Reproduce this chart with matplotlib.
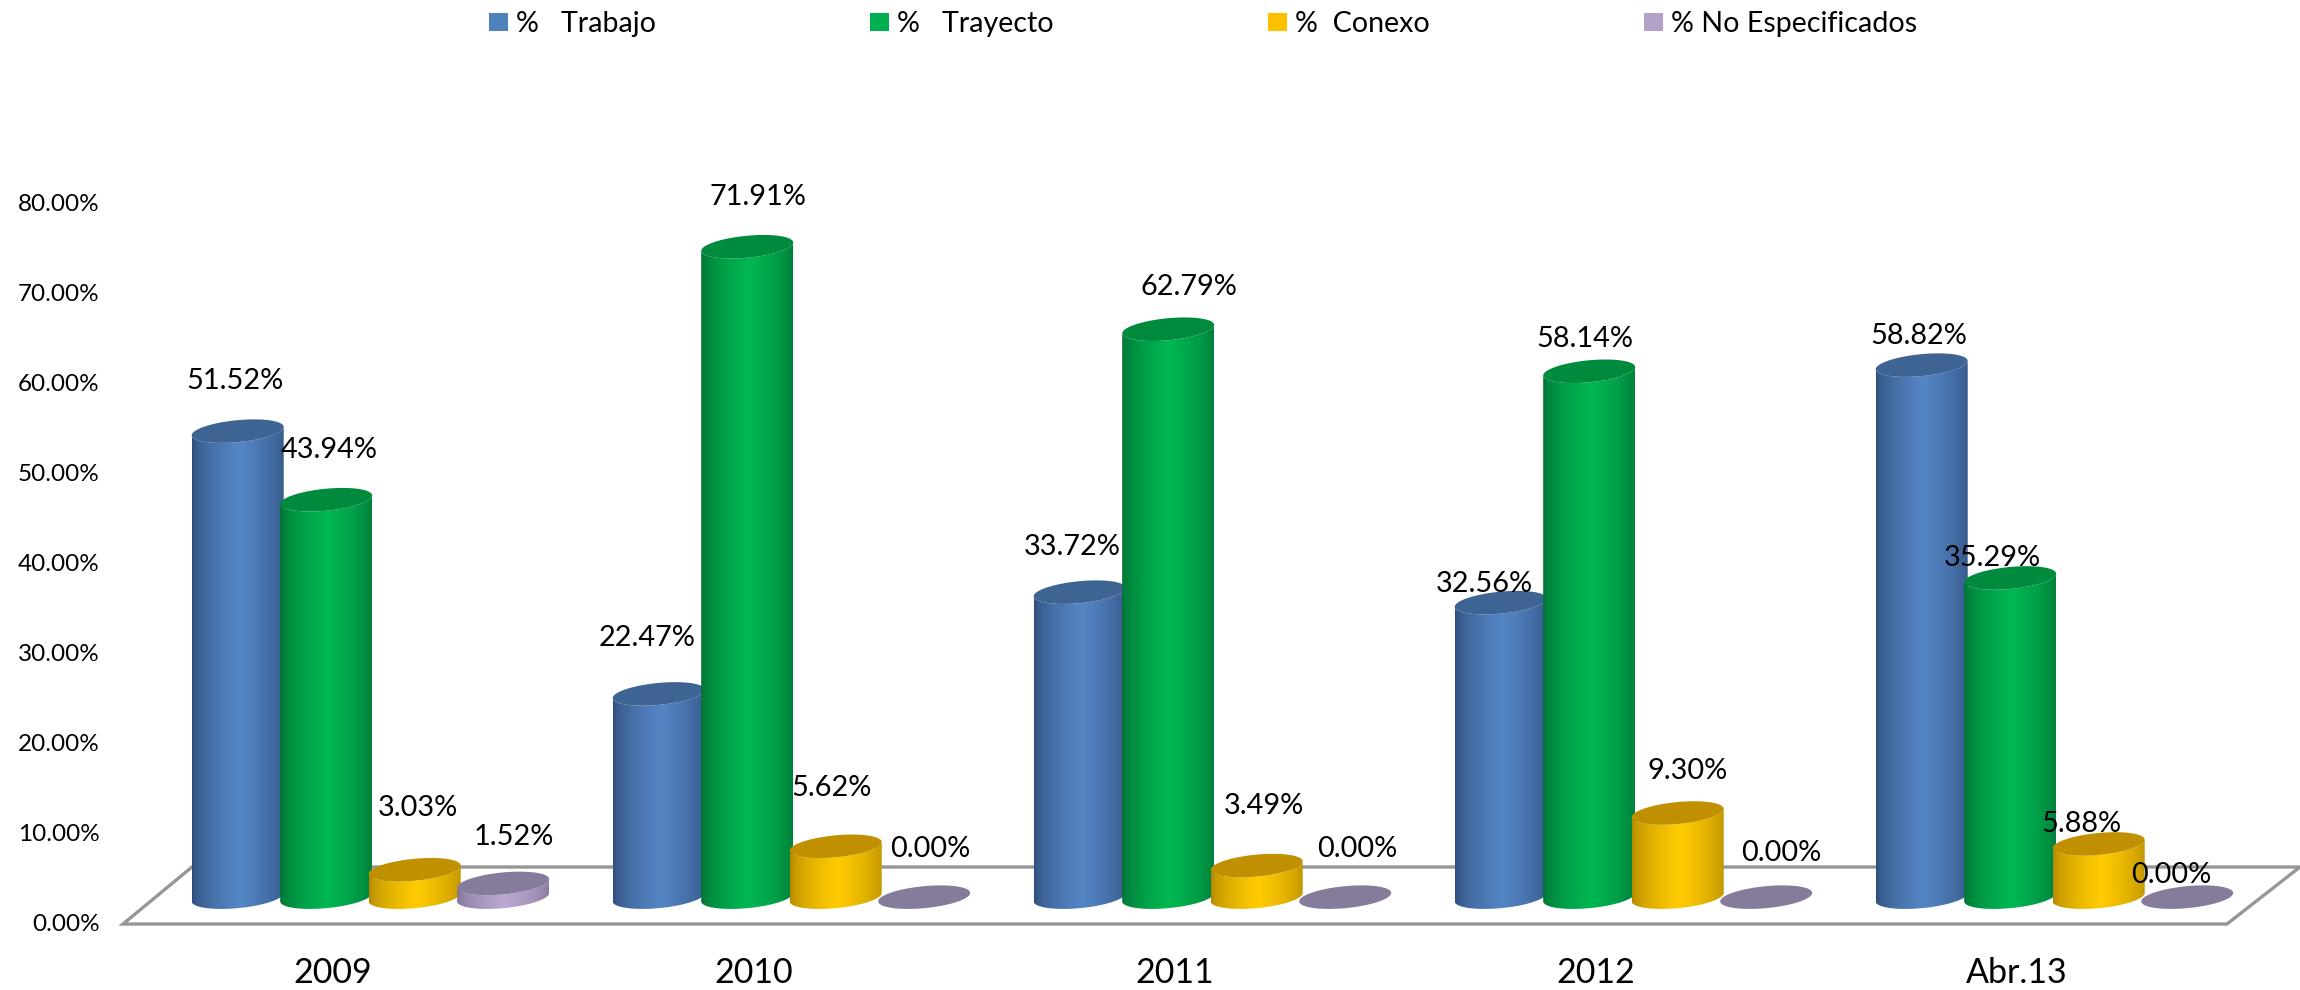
import numpy as np
import matplotlib
matplotlib.use("Agg")
import matplotlib.pyplot as plt
from matplotlib.patches import Patch, Polygon, PathPatch
from matplotlib.path import Path
from matplotlib.colors import to_rgb
from matplotlib.transforms import ScaledTranslation

plt.rcParams['font.family'] = ['Lato', 'DejaVu Sans']

categories = ['2009', '2010', '2011', '2012', 'Abr.13']
series_names = ['%   Trabajo', '%   Trayecto', '%  Conexo', '% No Especificados']
trabajo = [51.52, 22.47, 33.72, 32.56, 58.82]
trayecto = [43.94, 71.91, 62.79, 58.14, 35.29]
conexo = [3.03, 5.62, 3.49, 9.30, 5.88]
no_especificados = [1.52, 0.00, 0.00, 0.00, 0.00]
series = [trabajo, trayecto, conexo, no_especificados]
y_ticks = [0, 10, 20, 30, 40, 50, 60, 70, 80]

legend_colors = ['#4F81BD', '#00B050', '#FFC000', '#B3A2C7']
top_colors = ['#3E6494', '#008A3E', '#C09000', '#877B9B']
edge_colors = ['#2E4C78', '#006F33', '#B08500', '#7E7093']
mid_colors = ['#5486C6', '#00B853', '#FFCC00', '#BBA8D3']

# label offsets from the top of each bar, measured on the 1568 px wide view
label_off = [
    [(-2, -35), (-8, -38), (-5, -31), (-11, -13), (-2, -21)],
    [(2, -34), (7, -35), (14, -30), (-3, -23), (-12, -14)],
    [(2, -41), (-3, -39), (5, -40), (7, -28), (-12, -13)],
    [(7, -31), (4, -32), (8, -32), (10, -29), (-11, -14)],
]

W, H = 2300, 990
PX_Y = 9.0        # pixels per percent
Y0_PX = 921       # pixel row of the 0 tick
GROUP_PX = 421.0  # pixels between groups
X0_PX = 237.7     # pixel column of first blue bar
STEP = 88.5 / GROUP_PX
HALF_W = 46.0 / GROUP_PX
LIFT = 2.65       # lift of the bar base from the front of the floor
BAR_SCALE = 1.005 # bars stand slightly taller than the tick scale
ELL_B = 11.0 / PX_Y
ELL_S = 4.2 / PX_Y

AX_L, AX_B = 105, 940
fig = plt.figure(figsize=(W / 100, H / 100), dpi=100, facecolor='white')
ax = fig.add_axes([AX_L / W, (H - AX_B) / H, (W - AX_L) / W, AX_B / H])
ax.set_xlim((AX_L - X0_PX) / GROUP_PX, (W - X0_PX) / GROUP_PX)
ax.set_ylim((Y0_PX - AX_B) / PX_Y, Y0_PX / PX_Y)
for s in ax.spines.values():
    s.set_visible(False)


def px2data(px, py):
    return ((px - X0_PX) / GROUP_PX, (Y0_PX - py) / PX_Y)


floor = [px2data(123, 924), px2data(192, 867), px2data(2300, 867), px2data(2227, 924)]
ax.add_patch(Polygon(floor, closed=True, fill=False, edgecolor='#969696', linewidth=2.4, zorder=1))


def ellipse_pts(cx, cy, t):
    return np.column_stack([cx + HALF_W * np.cos(t),
                            cy + ELL_B * np.sin(t) + ELL_S * np.cos(t)])


def cylinder(cx, v, j, z):
    base = LIFT
    top = v * BAR_SCALE + LIFT
    t_all = np.linspace(0, 2 * np.pi, 100)
    if v > 0:
        t_low = np.linspace(np.pi, 2 * np.pi, 60)
        lower = ellipse_pts(cx, base, t_low)
        upper = ellipse_pts(cx, top, t_low)[::-1]
        body = np.vstack([lower, upper, lower[:1]])
        path = Path(body)
        clip = PathPatch(path, transform=ax.transData, facecolor='none', edgecolor='none')
        ax.add_patch(clip)
        e, m = np.array(to_rgb(edge_colors[j])), np.array(to_rgb(mid_colors[j]))
        u = np.linspace(0, 1, 128)
        w = np.clip(1 - np.abs(u - 0.52) / 0.52, 0, 1) ** 0.55
        grad = e[None, :] + (m - e)[None, :] * w[:, None]
        im = ax.imshow(grad[None, :, :], extent=[cx - HALF_W, cx + HALF_W, base - 2, top + 2],
                       aspect='auto', interpolation='bilinear', zorder=z)
        im.set_clip_path(clip)
    ax.add_patch(Polygon(ellipse_pts(cx, top, t_all), closed=True, facecolor=top_colors[j],
                         edgecolor='none', zorder=z + 0.1))


for g in range(len(categories)):
    for j, vals in enumerate(series):
        cylinder(g + j * STEP, vals[g], j, 2 + g * 4 + j)

scale = W / 1568
for g in range(len(categories)):
    for j, vals in enumerate(series):
        dx, dy = label_off[j][g]
        ax.annotate(f'{vals[g]:.2f}%', xy=(g + j * STEP, vals[g] + 2.8),
                    xytext=(dx * scale, -dy * scale), textcoords='offset pixels',
                    ha='center', va='center', fontsize=20.8, color='black', zorder=60)

ax.set_yticks(y_ticks)
ax.set_yticklabels([f'{t:.2f}%' for t in y_ticks], fontsize=17.5, color='black')
ax.set_xticks(np.arange(len(categories)) + 65 / 287)
ax.set_xticklabels(categories, fontsize=24.5, color='black')
ax.tick_params(axis='y', length=0, pad=4)
ax.tick_params(axis='x', length=0, pad=12)
for lab in ax.get_yticklabels():
    lab.set_transform(lab.get_transform() + ScaledTranslation(0, -1.5 / 100, fig.dpi_scale_trans))

handles = [Patch(facecolor=c, edgecolor='none') for c in legend_colors]
fs = 20.6
em = fs * 100 / 72
ax.legend(handles, series_names, ncol=4, frameon=False, fontsize=fs,
          loc='center', bbox_to_anchor=(1203 / W, 1 - 24 / H), bbox_transform=fig.transFigure,
          handlelength=19 / em, handleheight=17 / em, handletextpad=8 / em,
          columnspacing=214 / em, borderpad=0, labelcolor='black')

fig.savefig('out.png', dpi=100, facecolor='white')
